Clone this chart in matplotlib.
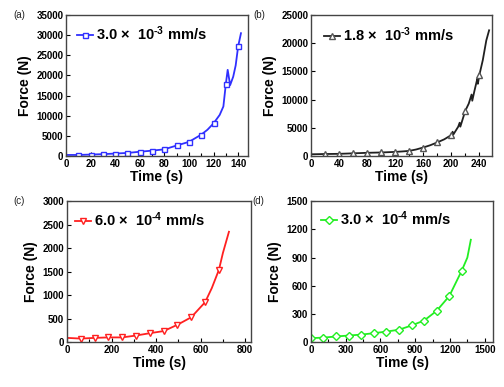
import numpy as np
import matplotlib
matplotlib.use("Agg")
import matplotlib.pyplot as plt
from matplotlib.ticker import MultipleLocator

plt.rcParams["font.family"] = ["Liberation Sans", "DejaVu Sans"]
plt.rcParams["mathtext.fontset"] = "custom"
plt.rcParams["mathtext.bf"] = "Liberation Sans:bold"
plt.rcParams["mathtext.rm"] = "Liberation Sans:bold"
plt.rcParams["mathtext.default"] = "bf"

# (a) 3.0e-3 mm/s
zeit_a = [0, 10, 20, 30, 40, 50, 60, 70, 80, 90, 100, 110, 115, 120, 125, 128,
          130, 131.5, 133.5, 136, 138, 140, 142.3]
kraft_a = [250, 250, 350, 450, 600, 750, 1050, 1320, 1650, 2600, 3500, 5300, 6500,
           8100, 10200, 12300, 17900, 21400, 17600, 19700, 22500, 27200, 30500]

# (b) 1.8e-3 mm/s
zeit_b = [0, 10, 20, 30, 40, 50, 60, 70, 80, 90, 100, 110, 120, 130, 140, 150, 160,
          170, 180, 190, 200, 202, 203, 210, 212, 213, 220, 225, 229, 230, 233, 237,
          238, 240, 245, 250, 254]
kraft_b = [300, 320, 350, 360, 380, 420, 470, 510, 560, 590, 620, 670, 720, 800, 900,
           1150, 1500, 1900, 2400, 2950, 3700, 4300, 3800, 5200, 5900, 5200, 8000, 9300,
           10900, 9800, 11500, 13600, 12800, 14300, 17000, 20500, 22300]

# (c) 6.0e-4 mm/s
zeit_c = [0, 62, 124, 186, 248, 310, 372, 434, 496, 558, 620, 650, 682, 700, 715, 727]
kraft_c = [90, 75, 90, 100, 100, 140, 190, 235, 370, 530, 850, 1150, 1540, 1900, 2150, 2350]

# (d) 3.0e-4 mm/s
zeit_d = [0, 108, 217, 325, 434, 542, 651, 760, 868, 977, 1085, 1194, 1302, 1350, 1380]
kraft_d = [42, 48, 60, 70, 80, 95, 112, 132, 177, 230, 333, 490, 762, 900, 1090]

panels = [
    dict(t=zeit_a, f=kraft_a, step=10, col="#3030ff", mk="s", ms=3.6, mec="#3030ff",
         lab="3.0 ×  10$^{\\text{-}3}$ mm/s", tag="(a)", mark0=False,
         pos=[0.131, 0.597, 0.361, 0.364], xlim=148, ylim=35000, ytick=5000,
         xmaj=20, xmin=10, leg=(0.06, 0.87)),
    dict(t=zeit_b, f=kraft_b, step=20, col="#202020", mk="^", ms=4.2, mec="#555555",
         lab="1.8 ×  10$^{\\text{-}3}$ mm/s", tag="(b)", mark0=False,
         pos=[0.617, 0.597, 0.359, 0.364], xlim=258, ylim=25000, ytick=5000,
         xmaj=40, xmin=20, leg=(0.07, 0.86)),
    dict(t=zeit_c, f=kraft_c, step=62, col="#ff2020", mk="v", ms=4.2, mec="#ff2020",
         lab="6.0 ×  10$^{\\text{-}4}$ mm/s", tag="(c)", mark0=False,
         pos=[0.133, 0.116, 0.365, 0.364], xlim=826, ylim=3000, ytick=500,
         xmaj=200, xmin=100, leg=(0.045, 0.867)),
    dict(t=zeit_d, f=kraft_d, step=108.5, col="#22ee22", mk="D", ms=3.8, mec="#22ee22",
         lab="3.0 ×  10$^{\\text{-}4}$ mm/s", tag="(d)", mark0=True,
         pos=[0.617, 0.116, 0.362, 0.364], xlim=1575, ylim=1500, ytick=300,
         xmaj=300, xmin=150, leg=(0.053, 0.874)),
]

fig = plt.figure(figsize=(5.04, 3.87), dpi=100)

for p in panels:
    ax = fig.add_axes(p["pos"])
    t = np.array(p["t"], dtype=float)
    # Marker nur an den Messpunkten (Vielfache der Schrittweite)
    rest = np.abs(t - np.round(t / p["step"]) * p["step"])
    idx = [i for i in range(len(t)) if rest[i] < 1 and (t[i] > 0 or p["mark0"])]
    ax.plot(t, p["f"], color=p["col"], lw=1.3, marker=p["mk"], markevery=idx,
            ms=p["ms"], mfc="white", mec=p["mec"], mew=1.0, label=p["lab"])
    ax.set_xlim(0, p["xlim"])
    ax.set_ylim(0, p["ylim"])
    ax.xaxis.set_major_locator(MultipleLocator(p["xmaj"]))
    ax.xaxis.set_minor_locator(MultipleLocator(p["xmin"]))
    ax.yaxis.set_major_locator(MultipleLocator(p["ytick"]))
    ax.tick_params(which="both", direction="in", top=False, right=False,
                   labelsize=7, pad=2)
    ax.tick_params(which="major", length=3, width=0.8)
    ax.tick_params(which="minor", length=2, width=0.8)
    for lbl in ax.get_xticklabels() + ax.get_yticklabels():
        lbl.set_fontweight("bold")
    for s in ax.spines.values():
        s.set_color("#444444")
        s.set_linewidth(1.0)
    ax.set_xlabel("Time (s)", fontsize=10, fontweight="bold", labelpad=1)
    ax.set_ylabel("Force (N)", fontsize=10, fontweight="bold", labelpad=3)
    ax.legend(loc="center left", bbox_to_anchor=p["leg"], frameon=False,
              prop=dict(size=10.5, weight="bold"), handlelength=1.1,
              handletextpad=0.2, borderaxespad=0, borderpad=0)
    ax.text(-0.29 if p["tag"] in ("(a)", "(c)") else -0.32, 1.0, p["tag"],
            transform=ax.transAxes, fontsize=7, va="center", ha="left", color="#222222")

fig.savefig("out.png", dpi=100)
